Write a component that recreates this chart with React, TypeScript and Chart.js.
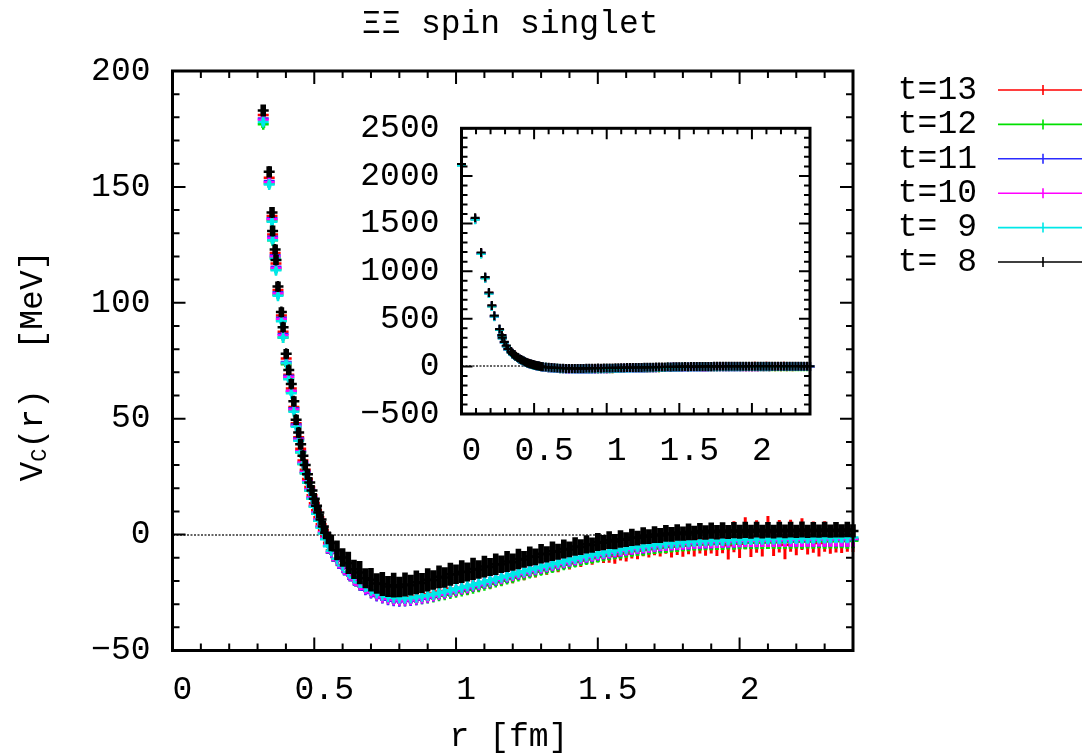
import React, { useEffect, useRef } from 'react';
import { Chart, registerables } from 'chart.js';

Chart.register(...registerables);

const FONT = "'Liberation Mono', 'DejaVu Sans Mono', monospace";
const FS = 33;

const TITLE = 'ΞΞ spin singlet';
const X_TITLE = 'r [fm]';
const Y_MAIN = 'V';
const Y_SUB = 'C';
const Y_REST = '(r)  [MeV]';

const X_TICKS_STEP = 0.5;
const MAIN_Y_RANGE = [-50, 200];
const INSET_Y_RANGE = [-500, 2500];

// r [fm]
const R = [
  0, 0.094, 0.135, 0.163, 0.189, 0.209, 0.226, 0.262, 0.278, 0.281, 0.295, 0.309,
  0.320, 0.341, 0.351, 0.353, 0.362, 0.365, 0.372, 0.384, 0.390, 0.401, 0.410, 0.419, 0.428, 0.436,
  0.445, 0.452, 0.460, 0.468, 0.476, 0.484, 0.492, 0.500, 0.508, 0.516, 0.524, 0.532, 0.540, 0.550,
  0.56, 0.58, 0.60, 0.62, 0.64, 0.66, 0.68, 0.70, 0.72, 0.74,
  0.76, 0.78, 0.80, 0.82, 0.84, 0.86, 0.88, 0.90, 0.92, 0.94,
  0.96, 0.98, 1.00, 1.02, 1.04, 1.06, 1.08, 1.10, 1.12, 1.14,
  1.16, 1.18, 1.20, 1.22, 1.24, 1.26, 1.28, 1.30, 1.32, 1.34,
  1.36, 1.38, 1.40, 1.42, 1.44, 1.46, 1.48, 1.50, 1.52, 1.54,
  1.56, 1.58, 1.60, 1.62, 1.64, 1.66, 1.68, 1.70, 1.72, 1.74,
  1.76, 1.78, 1.80, 1.82, 1.84, 1.86, 1.88, 1.90, 1.92, 1.94,
  1.96, 1.98, 2.00, 2.02, 2.04, 2.06, 2.08, 2.10, 2.12, 2.14,
  2.16, 2.18, 2.20, 2.22, 2.24, 2.26, 2.28, 2.30, 2.32, 2.34,
  2.36, 2.38, 2.40,
];

// V_C(r) [MeV], t=13
const V_T13 = [
  2120, 1550, 1190, 932, 771, 635, 527, 387, 324, 298, 254, 214,
  181, 154, 137.5, 129.5, 121.5, 117, 105.5, 94.5, 87.5, 76, 69, 63, 55, 48,
  42, 37, 32, 28, 24, 20.5, 17, 13.5, 10.5, 7.5, 4.5, 2, -0.5, -3.5,
  -6.8, -10.5, -13.1, -16.2, -18.5, -21.0, -22.4, -24.1, -25.0, -26.3,
  -26.6, -27.4, -27.2, -27.6, -27.0, -26.8, -26.5, -25.7, -25.4, -24.6,
  -24.3, -23.4, -24.3, -23.0, -23.6, -22.0, -22.3, -20.7, -21.0, -19.4,
  -19.7, -18.1, -18.5, -16.8, -17.2, -15.5, -15.9, -14.2, -14.7, -13.0,
  -13.5, -11.8, -12.3, -10.6, -11.1, -9.4, -10.0, -8.3, -9.1, -8.6,
  -9.2, -7.5, -8.1, -6.4, -7.0, -5.3, -6.1, -4.6, -5.4, -3.8,
  -4.9, -3.2, -4.4, -2.6, -3.9, -2.1, -3.5, -1.8, -3.3, -1.5,
  -4.6, -0.9, -3.9, 0.6, -3.4, -0.8, -3.1, 0.9, -2.9, -0.7,
  -4.4, -0.5, -2.8, 0.2, -2.6, -1.1, -3.6, -0.8, -2.5, -1.2,
  -2.2, -1.0, -1.9,
];
const E_T13 = [
  6, 5, 4, 4, 3.5, 3, 3, 3, 2.5, 2.5, 2.5, 2.2,
  2.0, 1.8, 1.7, 1.7, 1.6, 1.6, 1.6, 1.5, 1.5, 1.5, 1.5, 1.5, 1.5, 1.5,
  1.5, 1.5, 1.5, 1.5, 1.5, 1.5, 1.5, 1.5, 1.5, 1.5, 1.5, 1.5, 1.5, 1.5,
  1.5, 1.7, 1.6, 1.8, 1.7, 1.9, 1.8, 2.0, 1.9, 2.1,
  2.0, 2.2, 2.1, 2.3, 2.1, 2.3, 2.2, 2.4, 2.2, 2.4,
  2.2, 2.4, 2.2, 2.5, 2.3, 2.5, 2.3, 2.6, 2.4, 2.6,
  2.4, 2.7, 2.5, 2.7, 2.5, 2.8, 2.6, 2.8, 2.6, 2.9,
  2.7, 2.9, 2.8, 3.0, 2.9, 3.1, 3.0, 3.3, 3.2, 3.5,
  3.4, 3.7, 3.5, 3.9, 3.6, 4.0, 3.8, 4.3, 4.0, 4.5,
  5.0, 5.6, 5.2, 5.9, 5.5, 6.1, 5.6, 6.3, 5.9, 6.5,
  6.1, 6.7, 6.2, 6.9, 6.3, 7.0, 6.4, 7.1, 6.3, 7.0,
  6.2, 6.9, 6.1, 6.8, 6.0, 6.7, 5.9, 6.6, 5.8, 6.5,
  5.7, 6.4, 5.6,
];

// t=12
const V_T12 = [
  2112, 1543, 1183, 926, 766, 631, 524, 384, 321, 295, 251, 211,
  177, 151.5, 135.5, 127, 119.5, 114.5, 103.5, 92.5, 85, 73.5, 67.5, 61.5, 53.5, 47,
  41, 35.5, 30.5, 26.5, 22.5, 19, 15.5, 12, 9, 6, 3.2, 0.7, -1.8, -4.8,
  -7.8, -11.3, -14.2, -17.0, -19.6, -21.8, -23.6, -25.1, -26.3, -27.2,
  -27.9, -28.3, -28.5, -28.5, -28.3, -28.1, -27.7, -27.3, -26.9, -26.4,
  -25.9, -25.4, -24.9, -24.3, -23.8, -23.1, -22.5, -21.8, -21.2, -20.5,
  -19.9, -19.2, -18.6, -17.9, -17.3, -16.6, -16.0, -15.4, -14.8, -14.2,
  -13.6, -13.0, -12.4, -11.8, -11.2, -10.7, -10.2, -9.7, -9.2, -8.8,
  -8.4, -8.0, -7.6, -7.2, -6.9, -6.6, -6.3, -6.0, -5.7, -5.4,
  -5.2, -5.0, -4.8, -4.6, -4.4, -4.3, -4.2, -4.1, -4.0, -3.9,
  -3.8, -3.7, -3.6, -3.5, -3.5, -3.4, -3.4, -3.3, -3.3, -3.2,
  -3.2, -3.1, -3.1, -3.0, -3.0, -3.0, -2.9, -2.9, -2.9, -2.8,
  -2.8, -2.8, -2.7,
];
const E_T12 = [
  5, 4, 3.5, 3, 3, 2.5, 2.5, 2.5, 2, 2, 2, 2,
  1.6, 1.5, 1.4, 1.4, 1.3, 1.3, 1.3, 1.2, 1.2, 1.2, 1.2, 1.1, 1.1, 1.1,
  1.1, 1.0, 1.0, 1.0, 1.0, 1.0, 1.0, 1.0, 0.9, 0.9, 0.9, 0.9, 0.9, 0.9,
  1.0, 1.1, 1.0, 1.2, 1.1, 1.2, 1.1, 1.3, 1.2, 1.3,
  1.2, 1.3, 1.2, 1.4, 1.3, 1.4, 1.3, 1.4, 1.3, 1.5,
  1.4, 1.5, 1.4, 1.6, 1.5, 1.6, 1.5, 1.7, 1.6, 1.7,
  1.6, 1.8, 1.7, 1.8, 1.7, 1.9, 1.8, 1.9, 1.8, 2.0,
  1.9, 2.0, 1.9, 2.1, 2.0, 2.1, 2.0, 2.2, 2.1, 2.2,
  2.1, 2.3, 2.2, 2.3, 2.2, 2.4, 2.3, 2.4, 2.3, 2.5,
  2.4, 2.5, 2.4, 2.6, 2.5, 2.6, 2.5, 2.7, 2.6, 2.7,
  2.6, 2.8, 2.7, 2.8, 2.7, 2.9, 2.8, 2.9, 2.8, 3.0,
  2.9, 3.0, 2.9, 3.1, 3.0, 3.1, 3.0, 3.2, 3.1, 3.2,
  3.1, 3.3, 3.2,
];

// t=11
const V_T11 = [
  2118, 1548, 1188, 930, 770, 634, 526, 386, 323, 297, 253, 213,
  179.5, 152.5, 136.5, 128.5, 120.5, 115.5, 104.5, 93.5, 86.5, 74.5, 68.5, 62, 54.5, 47.5,
  41.5, 36, 31, 27, 23, 19.5, 16, 12.5, 9.5, 6.5, 3.5, 1, -1.5, -4.8,
  -7.7, -11.2, -14.3, -17.1, -19.7, -21.9, -23.8, -25.2, -26.5, -27.4,
  -28.1, -28.5, -28.7, -28.6, -28.4, -28.1, -27.7, -27.2, -26.6, -26.0,
  -25.4, -24.8, -24.2, -23.6, -23.0, -22.3, -21.7, -21.0, -20.4, -19.7,
  -19.1, -18.4, -17.8, -17.1, -16.5, -15.8, -15.2, -14.6, -14.0, -13.4,
  -12.8, -12.2, -11.6, -11.0, -10.4, -9.9, -9.4, -8.9, -8.4, -8.0,
  -7.6, -7.2, -6.8, -6.4, -6.1, -5.8, -5.5, -5.2, -4.9, -4.7,
  -4.5, -4.3, -4.1, -3.9, -3.7, -3.6, -3.5, -3.4, -3.3, -3.2,
  -3.1, -3.0, -2.9, -2.8, -2.8, -2.7, -2.7, -2.6, -2.6, -2.5,
  -2.5, -2.4, -2.4, -2.3, -2.3, -2.3, -2.2, -2.2, -2.2, -2.1,
  -2.1, -2.1, -2.0,
];
const E_T11 = [
  5, 4, 3.5, 3, 3, 2.5, 2.5, 2.5, 2, 2, 2, 2,
  1.6, 1.5, 1.4, 1.4, 1.3, 1.3, 1.3, 1.2, 1.2, 1.2, 1.2, 1.1, 1.1, 1.1,
  1.1, 1.0, 1.0, 1.0, 1.0, 1.0, 1.0, 1.0, 0.9, 0.9, 0.9, 0.9, 0.9, 0.9,
  0.9, 1.0, 1.0, 1.1, 1.0, 1.1, 1.1, 1.2, 1.1, 1.2,
  1.2, 1.3, 1.2, 1.3, 1.3, 1.3, 1.2, 1.3, 1.3, 1.4,
  1.3, 1.4, 1.4, 1.5, 1.4, 1.5, 1.5, 1.6, 1.5, 1.6,
  1.6, 1.7, 1.6, 1.7, 1.7, 1.8, 1.7, 1.8, 1.8, 1.9,
  1.8, 1.9, 1.9, 2.0, 1.9, 2.0, 2.0, 2.1, 2.0, 2.1,
  2.1, 2.2, 2.1, 2.2, 2.2, 2.3, 2.2, 2.3, 2.3, 2.4,
  2.3, 2.4, 2.4, 2.5, 2.4, 2.5, 2.5, 2.6, 2.5, 2.6,
  2.6, 2.7, 2.6, 2.7, 2.7, 2.8, 2.7, 2.8, 2.8, 2.9,
  2.8, 2.9, 2.9, 3.0, 2.9, 3.0, 3.0, 3.1, 3.0, 3.1,
  3.1, 3.2, 3.1,
];

// t=10
const V_T10 = [
  2114, 1545, 1185, 928, 768, 632, 525, 385, 322, 296, 252, 212,
  179, 152, 136, 128, 120, 115, 104, 93, 86, 74, 68, 62, 54, 47,
  41, 36, 31, 27, 23, 19.5, 16, 12.5, 9.5, 6.5, 3.5, 1, -1.5, -4.5,
  -7.5, -11.0, -14.0, -16.8, -19.4, -21.6, -23.4, -24.9, -26.1, -27.0,
  -27.7, -28.1, -28.3, -28.3, -28.1, -27.8, -27.4, -26.9, -26.4, -25.8,
  -25.2, -24.6, -24.0, -23.4, -22.8, -22.1, -21.5, -20.8, -20.2, -19.5,
  -18.9, -18.2, -17.6, -16.9, -16.3, -15.6, -15.0, -14.4, -13.8, -13.2,
  -12.6, -12.0, -11.4, -10.8, -10.2, -9.7, -9.2, -8.7, -8.2, -7.8,
  -7.4, -7.0, -6.6, -6.2, -5.9, -5.6, -5.3, -5.0, -4.7, -4.5,
  -4.3, -4.1, -3.9, -3.7, -3.5, -3.4, -3.3, -3.2, -3.1, -3.0,
  -2.9, -2.8, -2.7, -2.6, -2.6, -2.5, -2.5, -2.4, -2.4, -2.3,
  -2.3, -2.2, -2.2, -2.1, -2.1, -2.1, -2.0, -2.0, -2.0, -1.9,
  -1.9, -1.9, -1.8,
];
const E_T10 = [
  5, 4, 3.5, 3, 3, 2.5, 2.5, 2.5, 2, 2, 2, 2,
  1.6, 1.5, 1.4, 1.4, 1.3, 1.3, 1.3, 1.2, 1.2, 1.2, 1.2, 1.1, 1.1, 1.1,
  1.1, 1.0, 1.0, 1.0, 1.0, 1.0, 1.0, 1.0, 0.9, 0.9, 0.9, 0.9, 0.9, 0.9,
  0.9, 1.0, 1.0, 1.0, 1.1, 1.1, 1.1, 1.2, 1.2, 1.2,
  1.2, 1.3, 1.3, 1.3, 1.3, 1.4, 1.4, 1.4, 1.4, 1.5,
  1.5, 1.5, 1.5, 1.6, 1.6, 1.6, 1.6, 1.7, 1.7, 1.7,
  1.7, 1.8, 1.8, 1.8, 1.8, 1.9, 1.9, 1.9, 1.9, 2.0,
  2.0, 2.0, 2.0, 2.1, 2.1, 2.1, 2.1, 2.2, 2.2, 2.2,
  2.2, 2.3, 2.3, 2.3, 2.3, 2.4, 2.4, 2.4, 2.4, 2.5,
  2.5, 2.5, 2.5, 2.6, 2.6, 2.6, 2.6, 2.7, 2.7, 2.7,
  2.7, 2.8, 2.8, 2.8, 2.8, 2.9, 2.9, 2.9, 2.9, 3.0,
  3.0, 3.0, 3.0, 3.1, 3.1, 3.1, 3.1, 3.2, 3.2, 3.2,
  3.2, 3.3, 3.3,
];

// t=9
const V_T9 = [
  2108, 1540, 1180, 925, 765, 630, 522, 382, 320, 294, 250, 210,
  178, 151, 135, 127, 119, 114, 103, 92, 85, 74, 67, 61, 53, 46.5,
  40.5, 35.5, 30.5, 26.5, 22.5, 19, 15.5, 12, 9, 6, 3, 0.5, -2, -5,
  -7.0, -10.4, -13.3, -16.0, -18.6, -20.7, -22.5, -24.0, -25.2, -26.1,
  -26.8, -27.2, -27.4, -27.5, -27.3, -27.0, -26.6, -26.2, -25.7, -25.1,
  -24.5, -24.0, -23.4, -22.8, -22.2, -21.6, -21.0, -20.3, -19.7, -19.0,
  -18.4, -17.7, -17.1, -16.4, -15.8, -15.1, -14.5, -13.9, -13.3, -12.7,
  -12.1, -11.5, -10.9, -10.3, -9.7, -9.2, -8.7, -8.2, -7.7, -7.3,
  -6.9, -6.5, -6.1, -5.7, -5.4, -5.1, -4.8, -4.5, -4.2, -4.0,
  -3.8, -3.6, -3.4, -3.2, -3.0, -2.9, -2.8, -2.7, -2.6, -2.5,
  -2.4, -2.3, -2.2, -2.1, -2.1, -2.0, -2.0, -1.9, -1.9, -1.8,
  -1.8, -1.7, -1.7, -1.6, -1.6, -1.6, -1.5, -1.5, -1.5, -1.4,
  -1.4, -1.4, -1.3,
];
const E_T9 = [
  5, 4, 3.5, 3, 3, 2.5, 2.5, 2.5, 2, 2, 2, 2,
  1.6, 1.5, 1.4, 1.4, 1.3, 1.3, 1.3, 1.2, 1.2, 1.2, 1.2, 1.1, 1.1, 1.1,
  1.1, 1.0, 1.0, 1.0, 1.0, 1.0, 1.0, 1.0, 0.9, 0.9, 0.9, 0.9, 0.9, 0.9,
  0.9, 1.0, 0.9, 1.0, 1.0, 1.1, 1.0, 1.1, 1.1, 1.2,
  1.1, 1.2, 1.1, 1.2, 1.2, 1.2, 1.1, 1.2, 1.2, 1.3,
  1.2, 1.3, 1.2, 1.3, 1.3, 1.3, 1.2, 1.3, 1.3, 1.4,
  1.3, 1.4, 1.3, 1.4, 1.4, 1.4, 1.3, 1.4, 1.4, 1.5,
  1.4, 1.5, 1.4, 1.5, 1.5, 1.5, 1.4, 1.5, 1.5, 1.6,
  1.5, 1.6, 1.5, 1.6, 1.6, 1.6, 1.5, 1.6, 1.6, 1.7,
  1.6, 1.7, 1.6, 1.7, 1.7, 1.7, 1.6, 1.7, 1.7, 1.8,
  1.7, 1.8, 1.7, 1.8, 1.8, 1.8, 1.7, 1.8, 1.8, 1.9,
  1.8, 1.9, 1.8, 1.9, 1.9, 1.9, 1.8, 1.9, 1.9, 2.0,
  1.9, 2.0, 1.9,
];

// t=8
const V_T8 = [
  2125, 1560, 1196, 938, 776, 640, 532, 392, 328, 302, 258, 217,
  183, 156.5, 139, 131, 123, 118.5, 107, 96, 89.5, 78, 71, 65, 57.5, 49.5,
  44, 39, 34, 30, 26, 22.5, 19, 15.5, 12.5, 9.5, 6.5, 3.5, 0.8, -1.5,
  -3.6, -6.8, -9.9, -12.2, -15.0, -16.4, -18.8, -19.5, -21.1, -21.3,
  -22.4, -21.8, -22.6, -21.5, -21.8, -20.6, -20.9, -19.5, -19.6, -18.2,
  -18.5, -17.1, -17.1, -16.0, -16.1, -14.8, -15.1, -13.8, -14.0, -12.8,
  -12.8, -11.6, -11.9, -10.5, -10.7, -9.4, -9.6, -8.3, -8.5, -7.2,
  -7.4, -6.2, -6.4, -5.1, -5.4, -4.2, -4.5, -3.2, -3.5, -2.4,
  -3.0, -1.9, -2.2, -1.2, -1.5, -0.5, -0.9, 0.0, -0.4, 0.5,
  0.1, 0.9, 0.4, 1.2, 0.7, 1.5, 0.9, 1.7, 1.0, 1.8,
  1.1, 1.9, 1.2, 2.0, 1.2, 2.1, 1.3, 2.0, 1.3, 2.1,
  1.4, 2.1, 1.4, 2.2, 1.4, 2.1, 1.5, 2.2, 1.5, 2.1,
  1.6, 2.2, 1.6,
];
const E_T8 = [
  8, 6, 5, 5, 4, 4, 4, 3.5, 3.5, 3.5, 3, 3,
  2.6, 2.4, 2.3, 2.3, 2.2, 2.2, 2.2, 2.1, 2.1, 2.1, 2.1, 2.1, 2.2, 2.2,
  2.2, 2.3, 2.3, 2.3, 2.4, 2.4, 2.4, 2.4, 2.5, 2.5, 2.5, 2.5, 2.5, 2.6,
  3.6, 4.3, 4.0, 4.8, 4.2, 5.0, 4.3, 5.1, 4.4, 5.2,
  4.5, 5.3, 4.4, 5.2, 4.5, 5.1, 4.3, 5.0, 4.2, 4.9,
  4.4, 5.0, 4.2, 4.9, 4.1, 4.8, 4.0, 4.7, 3.9, 4.6,
  3.8, 4.5, 3.7, 4.4, 3.6, 4.3, 3.6, 4.2, 3.5, 4.2,
  3.5, 4.1, 3.4, 4.0, 3.4, 3.9, 3.3, 3.9, 3.3, 3.8,
  3.3, 3.8, 3.2, 3.7, 3.2, 3.7, 3.2, 3.6, 3.2, 3.6,
  3.2, 3.6, 3.1, 3.6, 3.1, 3.5, 3.1, 3.5, 3.1, 3.5,
  3.0, 3.5, 3.0, 3.5, 3.0, 3.4, 3.0, 3.4, 3.0, 3.4,
  3.0, 3.4, 2.9, 3.4, 2.9, 3.3, 2.9, 3.3, 2.9, 3.3,
  2.9, 3.3, 2.9,
];

const SERIES = [
  { label: 't=13', color: '#ff0000', v: V_T13, e: E_T13, ew: 3.0 },
  { label: 't=12', color: '#00e000', v: V_T12, e: E_T12, ew: 4.0 },
  { label: 't=11', color: '#2b2bff', v: V_T11, e: E_T11, ew: 4.0 },
  { label: 't=10', color: '#ff00ff', v: V_T10, e: E_T10, ew: 4.0 },
  { label: 't= 9', color: '#00e8e8', v: V_T9, e: E_T9, ew: 4.0 },
  { label: 't= 8', color: '#000000', v: V_T8, e: E_T8, ew: 5.6 },
];

function buildDatasets(radius: number, bw: number, ewScale: number) {
  return SERIES.map((s, i) => ({
    label: s.label,
    data: R.map((r, k) => ({ x: r, y: s.v[k] })),
    errors: s.e,
    errWidth: s.ew * ewScale,
    borderColor: s.color,
    backgroundColor: s.color,
    pointStyle: 'cross',
    pointRadius: radius,
    pointHoverRadius: radius,
    pointBorderWidth: bw,
    showLine: false,
    order: SERIES.length - 1 - i,
    clip: 6,
  }));
}

const fmt = (v: any) => String(v).replace('-', '\u2212');

const errBarPlugin = {
  id: 'errbars',
  beforeDatasetDraw(chart: any, args: any) {
    const ds = chart.data.datasets[args.index];
    const errs = ds.errors;
    if (!errs) return;
    const ys = chart.scales.y;
    const a = chart.chartArea;
    const ctx = chart.ctx;
    ctx.save();
    ctx.beginPath();
    ctx.rect(a.left - 6, a.top - 6, a.right - a.left + 12, a.bottom - a.top + 12);
    ctx.clip();
    ctx.strokeStyle = ds.borderColor;
    ctx.lineWidth = ds.errWidth || 1.5;
    ctx.beginPath();
    args.meta.data.forEach((pt: any, i: number) => {
      const d = ds.data[i];
      if (d == null || errs[i] == null) return;
      const y1 = ys.getPixelForValue(d.y + errs[i]);
      const y2 = ys.getPixelForValue(d.y - errs[i]);
      ctx.moveTo(pt.x, y1);
      ctx.lineTo(pt.x, y2);
    });
    ctx.stroke();
    ctx.restore();
  },
};

const framePlugin = {
  id: 'frame',
  afterDraw(chart: any, _args: any, o: any) {
    const { ctx, chartArea: a } = chart;
    const xs = chart.scales.x;
    const ys = chart.scales.y;
    ctx.save();
    ctx.strokeStyle = '#000';
    ctx.lineWidth = o.tickWidth;
    ctx.beginPath();
    const nx = Math.round((xs.max - xs.min) / o.xMinor);
    for (let i = 0; i <= nx; i++) {
      const v = xs.min + i * o.xMinor;
      const q = v / o.xMajor;
      const major = Math.abs(q - Math.round(q)) < 1e-6;
      const len = major ? o.majorLen : o.minorLen;
      const px = xs.getPixelForValue(v);
      ctx.moveTo(px, a.bottom);
      ctx.lineTo(px, a.bottom - len);
      ctx.moveTo(px, a.top);
      ctx.lineTo(px, a.top + len);
    }
    const ny = Math.round((ys.max - ys.min) / o.yMinor);
    for (let i = 0; i <= ny; i++) {
      const v = ys.min + i * o.yMinor;
      const q = v / o.yMajor;
      const major = Math.abs(q - Math.round(q)) < 1e-6;
      const len = major ? o.majorLen : o.minorLen;
      const py = ys.getPixelForValue(v);
      ctx.moveTo(a.left, py);
      ctx.lineTo(a.left + len, py);
      ctx.moveTo(a.right, py);
      ctx.lineTo(a.right - len, py);
    }
    ctx.stroke();
    ctx.lineWidth = o.borderWidth;
    ctx.strokeRect(a.left, a.top, a.right - a.left, a.bottom - a.top);
    ctx.restore();
  },
};

const textPlugin = {
  id: 'texts',
  afterDraw(chart: any) {
    const ctx = chart.ctx;
    const mainFont = `${FS}px ${FONT}`;
    const subFont = `22px ${FONT}`;
    ctx.save();
    ctx.fillStyle = '#000';
    ctx.font = mainFont;
    ctx.textAlign = 'center';
    ctx.textBaseline = 'middle';
    ctx.fillText(TITLE, 510, 24);
    ctx.fillText(X_TITLE, 509, 737);

    // y axis title with subscript
    ctx.save();
    ctx.translate(42, 366);
    ctx.rotate(-Math.PI / 2);
    ctx.textAlign = 'left';
    ctx.textBaseline = 'alphabetic';
    ctx.font = mainFont;
    const w1 = ctx.measureText(Y_MAIN).width;
    const w3 = ctx.measureText(Y_REST).width;
    ctx.font = subFont;
    const w2 = ctx.measureText(Y_SUB).width;
    const x0 = -(w1 + w2 + w3) / 2;
    ctx.font = mainFont;
    ctx.fillText(Y_MAIN, x0, 0);
    ctx.font = subFont;
    ctx.fillText(Y_SUB, x0 + w1, 4);
    ctx.font = mainFont;
    ctx.fillText(Y_REST, x0 + w1 + w2, 0);
    ctx.restore();

    // legend
    SERIES.forEach((s, i) => {
      const y = 90 + i * 34.4;
      ctx.font = mainFont;
      ctx.textAlign = 'right';
      ctx.textBaseline = 'middle';
      ctx.fillStyle = '#000';
      ctx.fillText(s.label, 977, y);
      ctx.strokeStyle = s.color;
      ctx.lineWidth = 1.6;
      ctx.beginPath();
      ctx.moveTo(998, y);
      ctx.lineTo(1090, y);
      ctx.moveTo(1043, y - 5);
      ctx.lineTo(1043, y + 5);
      ctx.stroke();
    });
    ctx.restore();
  },
};

function makeScales(o: any) {
  return {
    x: {
      type: 'linear',
      min: 0,
      max: 2.4,
      afterFit: (s: any) => { s.height = o.xHeight; },
      grid: { display: false, drawTicks: false },
      border: { display: false },
      ticks: {
        stepSize: X_TICKS_STEP,
        includeBounds: false,
        padding: o.xPad,
        labelOffset: 10,
        maxRotation: 0,
        autoSkip: false,
        color: '#000',
        font: { family: FONT, size: FS },
        callback: fmt,
      },
    },
    y: {
      type: 'linear',
      min: o.yMin,
      max: o.yMax,
      afterFit: (s: any) => { s.width = o.yWidth; },
      grid: {
        drawTicks: false,
        lineWidth: 2,
        color: (c: any) => (c.tick && c.tick.value === 0 ? 'rgba(60,60,60,0.8)' : 'rgba(0,0,0,0)'),
      },
      border: { display: false, dash: [2, 1.5] },
      ticks: {
        stepSize: o.yStep,
        padding: 22,
        autoSkip: false,
        color: '#000',
        font: { family: FONT, size: FS },
        callback: fmt,
      },
    },
  };
}

function mainConfig(): any {
  return {
    type: 'scatter',
    data: { datasets: buildDatasets(5.5, 2.5, 1) },
    options: {
      responsive: false,
      animation: false,
      devicePixelRatio: 1,
      events: [],
      layout: { padding: { left: 0, right: 229, top: 71, bottom: 0 } },
      plugins: {
        legend: { display: false },
        title: { display: false },
        tooltip: { enabled: false },
        frame: { xMinor: 0.1, xMajor: 0.5, yMinor: 10, yMajor: 50, majorLen: 13, minorLen: 7, tickWidth: 2, borderWidth: 3 },
      },
      scales: makeScales({ xHeight: 102.5, yWidth: 172.5, xPad: 20, yMin: MAIN_Y_RANGE[0], yMax: MAIN_Y_RANGE[1], yStep: 50 }),
    },
    plugins: [errBarPlugin, framePlugin, textPlugin],
  };
}

function insetConfig(): any {
  return {
    type: 'scatter',
    data: { datasets: buildDatasets(4.5, 2.2, 0.4) },
    options: {
      responsive: false,
      animation: false,
      devicePixelRatio: 1,
      events: [],
      layout: { padding: { left: 0, right: 20, top: 42.3, bottom: 0 } },
      plugins: {
        legend: { display: false },
        title: { display: false },
        tooltip: { enabled: false },
        frame: { xMinor: 0.1, xMajor: 0.5, yMinor: 100, yMajor: 500, majorLen: 11, minorLen: 6, tickWidth: 2, borderWidth: 3 },
      },
      scales: makeScales({ xHeight: 72, yWidth: 131.5, xPad: 17, yMin: INSET_Y_RANGE[0], yMax: INSET_Y_RANGE[1], yStep: 500 }),
    },
    plugins: [errBarPlugin, framePlugin],
  };
}

export default function App() {
  const mainRef = useRef<HTMLCanvasElement>(null);
  const insetRef = useRef<HTMLCanvasElement>(null);

  useEffect(() => {
    document.body.style.margin = '0';
    const main = new Chart(mainRef.current as any, mainConfig());
    const inset = new Chart(insetRef.current as any, insetConfig());
    return () => {
      main.destroy();
      inset.destroy();
    };
  }, []);

  return (
    <div style={{ position: 'absolute', left: 0, top: 0, width: 1082, height: 753, background: '#fff', overflow: 'hidden' }}>
      <canvas ref={mainRef} width={1082} height={753} style={{ position: 'absolute', left: 0, top: 0 }} />
      <canvas ref={insetRef} width={500} height={400} style={{ position: 'absolute', left: 330, top: 86 }} />
    </div>
  );
}
